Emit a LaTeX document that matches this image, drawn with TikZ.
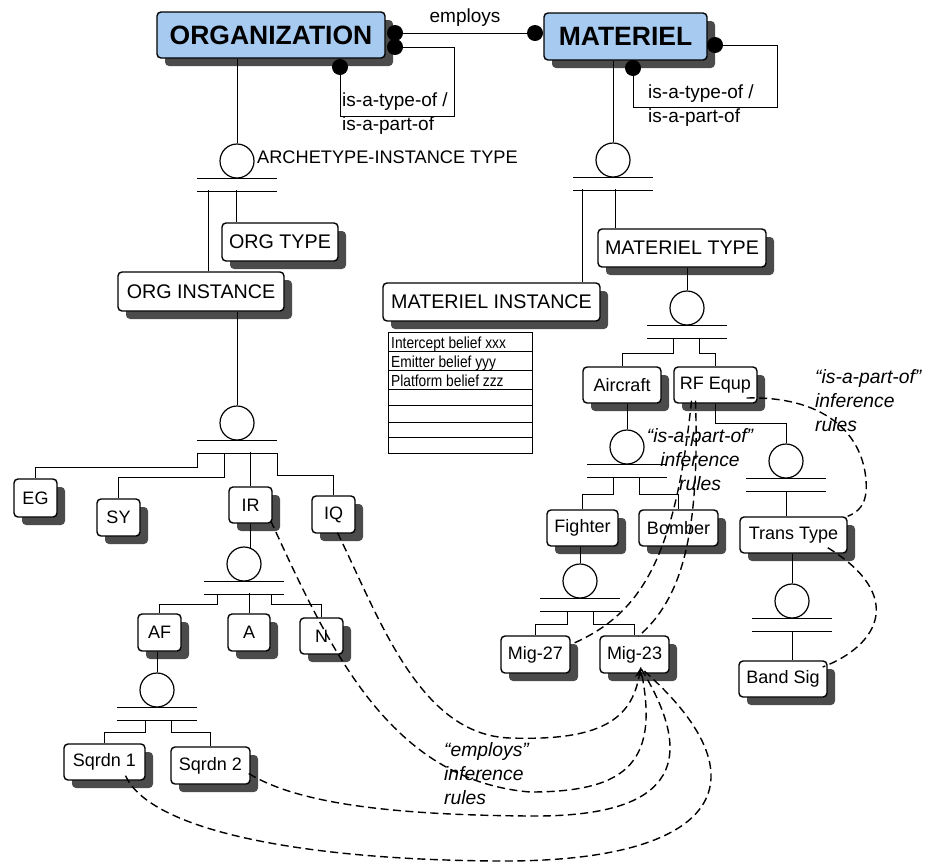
\documentclass[tikz,border=0pt]{standalone}
\usepackage{fontspec}
\setmainfont{Liberation Sans}
\newfontfamily\condfont{Liberation Sans}[FakeStretch=0.86]
\usetikzlibrary{shadows,calc,arrows.meta}
\definecolor{orgblue}{RGB}{166,202,240}
\definecolor{shadowgray}{RGB}{75,75,75}
\begin{document}
\begin{tikzpicture}[x=1pt,y=-1pt,
  box/.style={draw, line width=1.4pt, rounded corners=4pt, fill=white, inner sep=0pt,
    drop shadow={shadow xshift=8pt, shadow yshift=-8pt, fill=shadowgray, opacity=1}},
  bigbox/.style={box, fill=orgblue, font=\fontsize{26.5}{30}\selectfont\bfseries},
  lbox/.style={box, font=\fontsize{19.7}{22}\selectfont},
  sbox/.style={box, font=\fontsize{18}{21}\selectfont},
  circ/.style={draw, circle, line width=1.2pt, minimum size=34pt, inner sep=0pt, fill=white},
  bar/.style={line width=1.6pt},
  conn/.style={line width=1pt},
  dot/.style={circle, fill=black, inner sep=0pt, minimum size=16pt},
  infer/.style={line width=1.4pt, dash pattern=on 8pt off 4.5pt},
  lbl/.style={font=\fontsize{19}{22}\selectfont, inner sep=0pt},
  tbltxt/.style={font=\condfont\fontsize{16}{18}\selectfont, inner sep=0pt},
  ilbl/.style={font=\fontsize{19.3}{24}\selectfont\itshape, inner sep=0pt},
]
\useasboundingbox (0,0) rectangle (925,863);

% main boxes
\node[bigbox, minimum width=228pt, minimum height=46pt] (org) at (271,35) {ORGANIZATION};
\node[bigbox, minimum width=163pt, minimum height=47pt] (mat) at (625.5,36.5) {MATERIEL};

\node[lbox, minimum width=116pt, minimum height=38pt] (ot) at (280,242) {ORG TYPE};
\node[lbox, minimum width=166pt, minimum height=39pt] (oi) at (201,291.5) {ORG INSTANCE};
\node[lbox, minimum width=168pt, minimum height=38pt] (mt) at (682,248) {MATERIEL TYPE};
\node[lbox, minimum width=217pt, minimum height=38pt] (mi) at (491.5,302) {MATERIEL INSTANCE};

\node[sbox, minimum width=43pt, minimum height=38pt] (eg) at (35.5,498) {EG};
\node[sbox, minimum width=43pt, minimum height=37pt] (sy) at (118.5,517.5) {SY};
\node[sbox, minimum width=43pt, minimum height=36pt] (ir) at (250.5,505) {IR};
\node[sbox, minimum width=43pt, minimum height=37pt] (iq) at (333.5,514.5) {IQ};
\node[sbox, minimum width=43pt, minimum height=37pt] (af) at (159.5,632.5) {AF};
\node[sbox, minimum width=42pt, minimum height=37pt] (a) at (249,632.5) {A};
\node[sbox, minimum width=43pt, minimum height=36pt] (n) at (321.5,636) {N};
\node[sbox, minimum width=81pt, minimum height=36pt] (sq1) at (104.5,762) {Sqrdn 1};
\node[sbox, minimum width=79pt, minimum height=37pt] (sq2) at (210.5,765.5) {Sqrdn 2};

\node[sbox, minimum width=78pt, minimum height=36pt] (ac) at (622,385) {Aircraft};
\node[sbox, minimum width=83pt, minimum height=36pt] (rf) at (715.5,385) {RF Equp};
\node[sbox, minimum width=71pt, minimum height=36pt] (fi) at (582.5,528) {Fighter};
\node[sbox, minimum width=79pt, minimum height=36pt] (bo) at (678.5,528) {Bomber};
\node[sbox, minimum width=107pt, minimum height=36pt] (tt) at (793.5,535) {Trans Type};
\node[sbox, minimum width=69pt, minimum height=37pt] (m27) at (535.5,654.5) {Mig-27};
\node[sbox, minimum width=69pt, minimum height=37pt] (m23) at (634.5,654.5) {Mig-23};
\node[sbox, minimum width=88pt, minimum height=36pt] (bs) at (783,679) {Band Sig};

% table
\node[draw, line width=1pt, minimum width=144pt, minimum height=121pt, inner sep=0pt, anchor=north west] (tbl) at (388,332) {};
\foreach \yy in {351,370,389,405,422,437} \draw[line width=1pt] (388,\yy) -- (532,\yy);
\node[tbltxt, anchor=base west] (tr1) at (391,348) {Intercept belief xxx};
\node[tbltxt, anchor=base west] (tr2) at (391,367) {Emitter belief yyy};
\node[tbltxt, anchor=base west] (tr3) at (391,386) {Platform belief zzz};

% archetype circles
\node[circ] (c1) at (237,161) {};
\node[circ] (c2) at (613,160) {};
\node[circ] (c3) at (237,423) {};
\node[circ] (c4) at (244,564) {};
\node[circ] (c5) at (157,690) {};
\node[circ] (c6) at (687,308) {};
\node[circ] (c7) at (627,447) {};
\node[circ] (c8) at (786,461) {};
\node[circ] (c9) at (580,581) {};
\node[circ] (c10) at (792,601) {};
\foreach \c in {c1,c2,c3,c4,c5,c6,c7,c8,c9,c10} {
  \draw[bar] ($(\c.south)+(-40,0)$) -- ++(80,0);
  \draw[bar] ($(\c.south)+(-40,13)$) -- ++(80,0);
}

% parent to circle
\draw[conn] (c1.north) -- (c1.north |- org.south);
\draw[conn] (c2.north) -- (c2.north |- mat.south);
\draw[conn] (c3.north) -- (c3.north |- oi.south);
\draw[conn] (ir.south) -- ($(ir.south |- c4.north)+(0,2)$);
\draw[conn] (c5.north) -- (c5.north |- af.south);
\draw[conn] (c6.north) -- (c6.north |- mt.south);
\draw[conn] (c7.north) -- (c7.north |- ac.south);
\draw[conn] (rf.south) -- ++(0,20) -| (c8.north);
\draw[conn] (c9.north) -- (c9.north |- fi.south);
\draw[conn] (c10.north) -- (c10.north |- tt.south);

% circle bars to children
\draw[conn] ($(oi.north)+(7,0)$) -- ++(0,-81);
\draw[conn] ($(ot.north)+(-44,0)$) -- ++(0,-32);
\draw[conn] ($(mi.north)+(90.5,0)$) -- ++(0,-93);
\draw[conn] ($(mt.north)+(-67,0)$) -- ++(0,-39);

\draw[conn] (197,453) -- (197,467) -| (eg.north);
\draw[conn] (224,453) -- (224,477) -| (sy.north);
\draw[conn] (ir.north) -- ++(0,-34);
\draw[conn] (277,453) -- (277,475) -| (iq.north);

\draw[conn] (217,594) -- (217,604) -| (af.north);
\draw[conn] (a.north) -- ++(0,-20);
\draw[conn] (271,594) -- (271,604) -| (n.north);

\draw[conn] (145,720) -- (145,732) -| (sq1.north);
\draw[conn] (171,720) -- (171,732) -| (sq2.north);

\draw[conn] (673,338) -- (673,353) -| (ac.north);
\draw[conn] (699,338) -- (699,353) -| (rf.north);

\draw[conn] (613,477) -- (613,494) -| (fi.north);
\draw[conn] (639,477) -- (639,494) -| (bo.north);

\draw[conn] ($(c8.south)+(0,13)$) -- (c8.south |- tt.north);

\draw[conn] (567,611) -- (567,624) -| (m27.north);
\draw[conn] (593,611) -- (593,624) -| (m23.north);

\draw[conn] ($(c10.south)+(0,13)$) -- (c10.south |- bs.north);

% relationship dots
\node[dot] (d1) at (395,33) {};
\node[dot] (d2) at (395,47) {};
\node[dot] (d3) at (340,67) {};
\node[dot] (d4) at (535,33) {};
\node[dot] (d5) at (715,45) {};
\node[dot] (d6) at (633,68) {};
\draw[conn] (d1.center) -- (d4.center);
\draw[conn] (d2.center) -| (454,116) -| (d3.center);
\draw[conn] (d5.center) -| (777,107) -| (d6.center);

% labels
\node[lbl, anchor=base] (emp) at (465,22) {employs};
\node[lbl, anchor=base west] (lo1) at (342,106) {is-a-type-of /};
\node[lbl, anchor=base west] (lo2) at (342,130) {is-a-part-of};
\node[lbl, anchor=base west] (lm1) at (648,98) {is-a-type-of /};
\node[lbl, anchor=base west] (lm2) at (648,122) {is-a-part-of};
\node[lbl, font=\fontsize{18.2}{22}\selectfont, anchor=base west] (arch) at (257,163) {ARCHETYPE-INSTANCE TYPE};

\node[ilbl, align=left, anchor=west] (inf1) at (444,774) {“employs”\\inference\\rules};
\node[ilbl, align=center] (inf2) at (700,460) {“is-a-part-of”\\inference\\rules};
\node[ilbl, align=left, anchor=west] (inf3) at (815,401) {“is-a-part-of”\\inference\\rules};

% inference rules (dashed)
\draw[infer] ($(rf.south)+(-24,-3)$) .. controls (675,560) and (640,615) .. ($(m27.east)+(0,-10)$);
\draw[infer] ($(rf.south)+(-20,-3)$) .. controls (700,540) and (680,600) .. ($(m23.north)+(4,1)$);
\draw[infer] ($(rf.east)+(-11,13)$) .. controls (820,396) and (862,430) .. (866,480) .. controls (868,505) and (858,512) .. (tt.north east);
\draw[infer] ($(tt.south east)+(-20,-6)$) .. controls (905,595) and (880,645) .. ($(bs.east)+(-5,-12)$);

\coordinate (tip) at ($(m23.south)+(6,-6)$);
\draw[infer] ($(ir.south east)+(-2,-3)$) .. controls (330,650) and (390,780) .. (530,792) .. controls (630,792) and (660,760) .. (tip);
\draw[infer, -{Stealth[length=10pt,width=8pt]}] ($(iq.south)+(4,-1)$) .. controls (380,620) and (420,735) .. (510,738) .. controls (600,741) and (632,720) .. (tip);
\draw[infer] ($(sq2.east)+(-2,8)$) .. controls (300,805) and (400,815) .. (530,816) .. controls (650,817) and (710,780) .. (tip);
\draw[infer] ($(sq1.south)+(21,-5)$) .. controls (150,830) and (300,860) .. (500,861) .. controls (720,862) and (770,780) .. (tip);
\end{tikzpicture}
\end{document}
